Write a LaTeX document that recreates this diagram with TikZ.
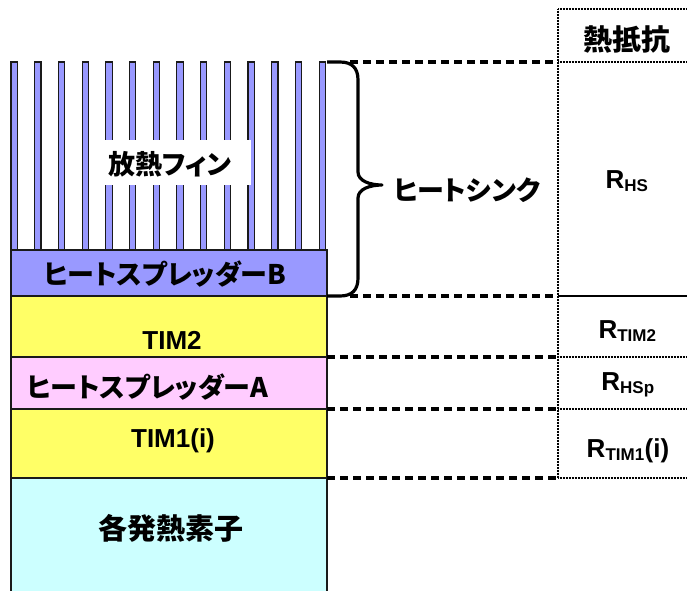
\documentclass[tikz,border=0pt]{standalone}
\usepackage{fontspec}
\setmainfont{Liberation Sans}
\newfontfamily\jp{Noto Sans CJK JP}[RawFeature=+palt]
\definecolor{finblue}{HTML}{9999FF}
\definecolor{timyellow}{HTML}{FFFF66}
\definecolor{sppink}{HTML}{FFCCFF}
\definecolor{devcyan}{HTML}{CCFFFF}
\definecolor{edge}{HTML}{1A1A1A}
\tikzset{
  layerbox/.style={draw=edge, line width=1.2pt},
  finbar/.style={draw=edge, line width=1.1pt, fill=finblue},
  jplabel/.style={inner sep=0pt, font=\jp\bfseries\fontsize{27}{29}\selectfont},
  kjlabel/.style={inner sep=0pt, font=\jp\bfseries\fontsize{29}{31}\selectfont},
  latlabel/.style={inner sep=0pt, font=\bfseries\fontsize{26}{28}\selectfont},
  rlabel/.style={inner sep=0pt, anchor=base, font=\bfseries\fontsize{26}{28}\selectfont},
  dashline/.style={line width=3.2pt, dash pattern=on 8pt off 5pt},
  dotline/.style={line width=2.2pt, dash pattern=on 0.9pt off 0.6pt},
  solidline/.style={line width=2.6pt},
  bracestroke/.style={line width=3.2pt, line join=round}
}
\newcommand{\subsz}[1]{\textsubscript{\fontsize{17}{17}\selectfont #1}}
\begin{document}
\begin{tikzpicture}[x=1pt,y=-1pt]
\useasboundingbox (0,0) rectangle (687,590);
\clip (0,0) rectangle (687,590);
% layers
\draw[layerbox, fill=devcyan] (11,478) rectangle (327,600);
\draw[layerbox, fill=timyellow] (11,409) rectangle (327,478);
\draw[layerbox, fill=sppink] (11,357) rectangle (327,409);
\draw[layerbox, fill=timyellow] (11,296) rectangle (327,357);
\draw[layerbox, fill=finblue] (11,250) rectangle (327,296);
% fins
\foreach \i in {0,...,13} {
  \draw[finbar] ({11+\i*23.7},62) rectangle ({17.3+\i*23.7},250);
}
% white label box
\node[fill=white, inner sep=0pt, minimum width=147pt, minimum height=45pt] (finbox) at (177.5,162.5) {};
% stack labels
\node[jplabel] (finlabel) at (170,164.5) {放熱フィン};
\node[jplabel] (spBlabel) at (165,274) {ヒートスプレッダーB};
\node[latlabel, anchor=base] (tim2label) at (172,349) {TIM2};
\node[jplabel] (spAlabel) at (147.5,387) {ヒートスプレッダーA};
\node[latlabel, anchor=base] (tim1label) at (173,447) {TIM1(i)};
\node[kjlabel] (devlabel) at (170.5,528.5) {各発熱素子};
% brace
\draw[bracestroke] (327,62) -- (340,62) .. controls (352,62) and (358,68) .. (358,80)
  -- (358,172) .. controls (358,181) and (370,185) .. (382,185)
  .. controls (370,185) and (358,189) .. (358,198)
  -- (358,278) .. controls (358,290) and (352,296) .. (340,296) -- (327,296);
\node[jplabel] (hslabel) at (467,190) {ヒートシンク};
% coordinates
\coordinate (s1) at (350,62);
\coordinate (s2) at (350,296);
\coordinate (s3) at (327,357);
\coordinate (s4) at (327,409);
\coordinate (s5) at (327,478);
\coordinate (c0) at (558,9);
\coordinate (c1) at (558,62);
\coordinate (c2) at (558,296);
\coordinate (c3) at (558,357);
\coordinate (c4) at (558,409);
\coordinate (c5) at (558,478);
\coordinate (e0) at (687,9);
\coordinate (e1) at (687,62);
\coordinate (e2) at (687,296);
\coordinate (e3) at (687,357);
\coordinate (e4) at (687,409);
\coordinate (e5) at (687,478);
% dashed guides
\draw[dashline] (s1) -- (c1);
\draw[dashline] (s2) -- (c2);
\draw[dashline] (s3) -- (c3);
\draw[dashline] (s4) -- (c4);
\draw[dashline] (s5) -- (c5);
% table
\draw[dotline] (c0) -- (c5);
\draw[dotline] (c0) -- (e0);
\draw[dotline] (c1) -- (e1);
\draw[solidline] (c2) -- (e2);
\draw[dotline] (c3) -- (e3);
\draw[dotline] (c4) -- (e4);
\draw[dotline] (c5) -- (e5);
% table texts
\node[kjlabel] (header) at (627,39) {熱抵抗};
\node[rlabel] (rhs) at (627,188) {R\subsz{HS}};
\node[rlabel] (rtim2) at (627.5,338) {R\subsz{TIM2}};
\node[rlabel] (rhsp) at (628,390) {R\subsz{HSp}};
\node[rlabel] (rtim1) at (628,457) {R\subsz{TIM1}(i)};
\end{tikzpicture}
\end{document}
